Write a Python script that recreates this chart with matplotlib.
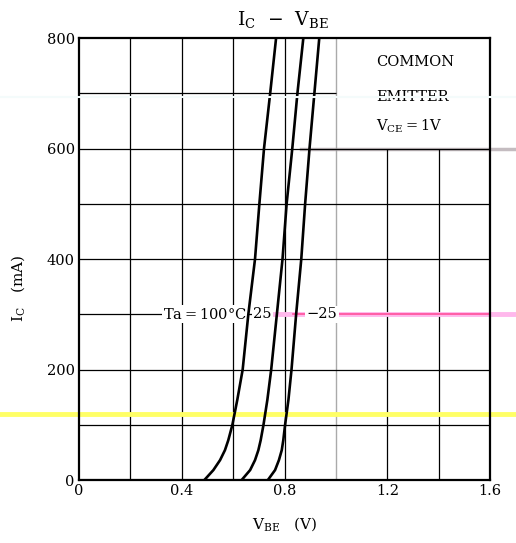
import matplotlib
matplotlib.use("Agg")
import matplotlib.pyplot as plt

plt.rcParams['font.family'] = ['DejaVu Serif']
plt.rcParams['mathtext.fontset'] = 'dejavuserif'

# collector current points (mA) shared by the three curves
ic = [0, 18, 36, 54, 72, 100, 145, 200, 300, 400, 500, 600, 700, 800]
# base-emitter voltage (V) per ambient temperature
vbe_100 = [0.488, 0.523, 0.549, 0.568, 0.581, 0.597, 0.616, 0.637, 0.659, 0.685, 0.702, 0.720, 0.744, 0.767]
vbe_25 = [0.633, 0.666, 0.685, 0.698, 0.707, 0.718, 0.733, 0.748, 0.770, 0.792, 0.808, 0.830, 0.850, 0.873]
vbe_m25 = [0.735, 0.763, 0.778, 0.789, 0.795, 0.802, 0.815, 0.827, 0.845, 0.865, 0.880, 0.897, 0.916, 0.935]

x_ticks = [0, 0.4, 0.8, 1.2, 1.6]
x_tick_labels = ["0", "0.4", "0.8", "1.2", "1.6"]
y_ticks = [0, 200, 400, 600, 800]

fig = plt.figure(figsize=(5.16, 5.43), dpi=100)
ax = fig.add_axes([0.153, 0.116, 0.797, 0.814])
ax.set_xlim(0, 1.6)
ax.set_ylim(0, 800)

# grid, drawn by hand because the legend box hides part of it
for x in [0.2, 0.4, 0.6, 0.8, 1.2, 1.4]:
    top = 600 if x > 1.0 else 800
    ax.vlines(x, 0, top, color="black", lw=0.9, zorder=1)
ax.vlines(1.0, 0, 800, color="#aaaaaa", lw=1.0, zorder=1)
for y in range(100, 800, 100):
    right = 1.0 if y == 700 else 1.6
    ax.hlines(y, 0, right, color="black", lw=0.9, zorder=1)

for v in [vbe_100, vbe_25, vbe_m25]:
    ax.plot(v, ic, color="black", lw=1.9, zorder=3, solid_capstyle="butt",
            solid_joinstyle="round")
ax.hlines(0, 0, 0.75, color="black", lw=2.2, zorder=3)

for s in ax.spines.values():
    s.set_linewidth(1.6)
ax.tick_params(length=0, labelsize=10.5, pad=3)
ax.set_xticks(x_ticks)
ax.set_xticklabels(x_tick_labels)
ax.set_yticks(y_ticks)

ax.text(1.155, 757, "COMMON", fontsize=10.5, va="center", ha="left")
ax.text(1.155, 693, "EMITTER", fontsize=10.5, va="center", ha="left")
ax.text(1.155, 641, r"V$_\mathregular{CE}$$=$1V", fontsize=10.5, va="center", ha="left")

# scan marks in the source image
ax.axhline(693, xmin=-0.2, xmax=1.07, color="#f4fbfb", lw=1.5, clip_on=False, zorder=4)
ax.axhline(119, xmin=-0.2, xmax=1.07, color="#ffff66", lw=3.5, clip_on=False, zorder=2)
ax.axhline(300, xmin=0.47, xmax=1.07, color="#ffb8ec", lw=3.5, clip_on=False, zorder=2)
ax.axhline(300, xmin=0.52, xmax=1.0, color="#ff4f9a", lw=1.2, clip_on=False, zorder=2)
ax.axhline(600, xmin=0.54, xmax=1.07, color="#c4bcc0", lw=2.5, clip_on=False, zorder=0)

box = dict(facecolor="white", edgecolor="none", pad=1)
ax.text(0.49, 300, "Ta$=$100°C", fontsize=10.5, ha="center", va="center", bbox=box, zorder=2.5)
ax.text(0.715, 300, "25", fontsize=10.5, ha="center", va="center", bbox=box, zorder=2.5)
ax.text(0.945, 300, "−25", fontsize=10.5, ha="center", va="center", bbox=box, zorder=2.5)

fig.text(0.548, 0.965, r"I$_\mathregular{C}$  −  V$_\mathregular{BE}$", fontsize=13.5,
         ha="center", va="center")
fig.text(0.552, 0.035, r"V$_\mathregular{BE}$   (V)", fontsize=11, ha="center", va="center")
fig.text(0.035, 0.47, r"I$_\mathregular{C}$   (mA)", fontsize=11, ha="center", va="center",
         rotation=90)

fig.savefig("out.png", dpi=100)
